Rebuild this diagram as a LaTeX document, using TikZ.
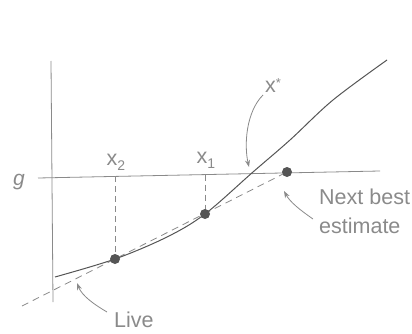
\documentclass[tikz,border=0pt]{standalone}
\usepackage{fontspec}
\setsansfont{Liberation Sans}
\usetikzlibrary{arrows.meta}
\definecolor{ink}{HTML}{555555}
\definecolor{pale}{HTML}{8A8A8A}
\newcommand{\xsub}[1]{x\raisebox{-5pt}{\fontsize{14}{14}\selectfont #1}}

\begin{document}
\begin{tikzpicture}[x=1pt,y=-1pt,
  lbl/.style={font=\sffamily\fontsize{21.5}{29}\selectfont,text=pale,inner sep=0pt},
  guide/.style={pale,line width=0.8pt},
  dot/.style={circle,fill=ink,inner sep=0pt,minimum size=10pt},
  callout/.style={pale,line width=0.8pt,-{Stealth[length=7pt,width=5pt]}}]
\useasboundingbox (0,0) rectangle (412,334);
% axes and target level
\coordinate (ytop) at (51,61);
\coordinate (ybot) at (53,302);
\coordinate (gl) at (38,178);
\coordinate (gr) at (380,171);
\draw[guide] (ytop) -- (ybot);
\draw[guide] (gl) -- (gr);
\node[lbl,font=\sffamily\itshape\fontsize{21}{22}\selectfont] (g) at (19,182) {g};
% secant through the two iterates
\coordinate (p2) at (115,259);
\coordinate (p1) at (205,214);
\coordinate (pn) at (287,172);
\coordinate (sec0) at (22,306);
\coordinate (g2) at (115,176.4);
\coordinate (g1) at (205,174.6);
\draw[guide,dash pattern=on 7pt off 5pt] (sec0) -- (pn);
\draw[guide,dash pattern=on 6pt off 4pt] (g2) -- (p2);
\draw[guide,dash pattern=on 6pt off 4pt] (g1) -- (p1);
% the function
\draw[ink,line width=1pt] plot[smooth,tension=0.55] coordinates
  {(55,277) (115,259) (167,237) (205,214) (253,172) (290,140) (333,100) (387,60)};
\foreach \p in {p2,p1,pn}
  \node[dot] at (\p) {};
% labels
\node[lbl] (x2) at (116,162) {\xsub{2}};
\node[lbl] (x1) at (206,160) {\xsub{1}};
\node[lbl] (xs) at (273,86) {x\raisebox{5pt}{\fontsize{13}{13}\selectfont *}};
\node[lbl,anchor=base west,align=left] (nb) at (319,233) {Next best\\estimate};
\node[lbl,anchor=base west] (live) at (114,327) {Live};
% pointers
\coordinate (cross) at (249,167);
\coordinate (nbtip) at (284,191);
\coordinate (livetip) at (77,283);
\draw[callout] (263,95) .. controls (246,112) and (244,145) .. (cross);
\draw[callout] (313,219) .. controls (300,210) and (290,202) .. (nbtip);
\draw[callout] (107,312) .. controls (95,305) and (82,296) .. (livetip);
\end{tikzpicture}
\end{document}
